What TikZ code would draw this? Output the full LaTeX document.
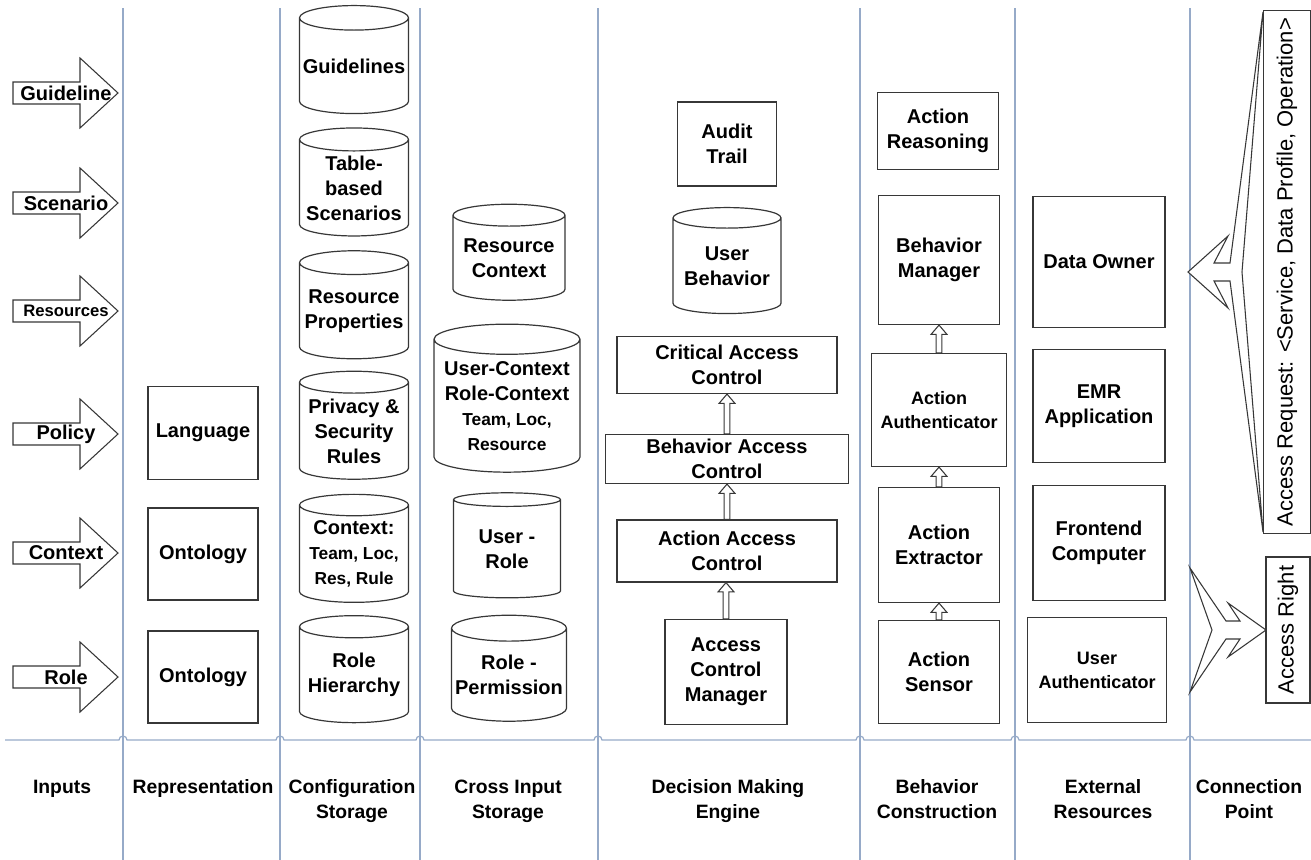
\documentclass[tikz,border=0pt]{standalone}
\usepackage{fontspec}
\setmainfont{Liberation Sans}
\usetikzlibrary{shapes.geometric,calc}

\definecolor{lanecol}{RGB}{150,170,200}
\definecolor{edgecol}{RGB}{55,55,55}
\newcommand{\smalltxt}{\fontsize{13}{15}\selectfont}

\begin{document}
\begin{tikzpicture}[x=0.75pt, y=-0.75pt,
    wh/.style 2 args={minimum width=#1*0.75pt, minimum height=#2*0.75pt},
    lane/.style={draw=lanecol, line width=0.9pt},
    box/.style={draw=edgecol, line width=0.9pt, fill=white, align=center,
      inner sep=0pt, font=\fontsize{15}{18.75}\selectfont\bfseries},
    store/.style={box, cylinder, shape border rotate=90, aspect=0.24},
    blockarrow/.style={draw=edgecol, line width=0.8pt, fill=white},
    lanelabel/.style={anchor=north, align=center, font=\fontsize{14.5}{18.75}\selectfont\bfseries},
    hollowup/.style={to path={let \p1=(\tikztostart), \p2=(\tikztotarget) in
      (\x1-2.2pt,\y1) -- (\x1-2.2pt,\y2-7pt) -- (\x1-6pt,\y2-7pt) -- (\x1,\y2)
      -- (\x1+6pt,\y2-7pt) -- (\x1+2.2pt,\y2-7pt) -- (\x1+2.2pt,\y1) -- cycle}}]
  \useasboundingbox (0,0) rectangle (1311,860);

  % lanes
  \foreach \x in {123,280,420,598,860,1015,1190}
    \draw[lane] (\x,8) -- (\x,860);
  \draw[lane] (5,740) \foreach \x in {123,280,420,598,860,1015,1190}
    { -- (\x-4,740) arc[start angle=180, end angle=360, radius=4] } -- (1311,740);

  % inputs
  \foreach \y/\name/\fs in {93/Guideline/15, 203/Scenario/15, 311/Resources/12.5,
                            434/Policy/15, 553/Context/15, 677/Role/15} {
    \draw[blockarrow] (13,\y-11) -- (80,\y-11) -- (80,\y-35) -- (118,\y)
      -- (80,\y+35) -- (80,\y+11) -- (13,\y+11) -- cycle;
    \node[font=\fontsize{\fs}{\fs}\selectfont\bfseries] (in\name) at (66,\y) {\name};
  }

  % representation
  \node[box, wh={110}{93}] (lang) at (203,433) {Language};
  \node[box, wh={110}{92}] (onto1) at (203,554) {Ontology};
  \node[box, wh={110}{92}] (onto2) at (203,677) {Ontology};

  % configuration storage
  \node[store, wh={109}{108}] (guides) at (354,66) {Guidelines};
  \node[store, wh={109}{108}] (scen) at (354,188) {Table-\\based\\Scenarios};
  \node[store, wh={109}{108}] (resprop) at (354,311) {Resource\\Properties};
  \node[store, wh={109}{108}] (rules) at (354,431) {Privacy \&\\Security\\Rules};
  \node[store, wh={109}{108}] (ctx) at (354,554)
    {Context:\\{\smalltxt Team, Loc,}\\{\smalltxt Res, Rule}};
  \node[store, wh={109}{107}] (rolehier) at (354,675) {Role\\Hierarchy};

  % cross input storage
  \node[store, wh={112}{96}] (resctx) at (509,258) {Resource\\Context};
  \node[store, wh={146}{148}] (userctx) at (507,406)
    {User-Context\\Role-Context\\{\smalltxt Team, Loc,}\\{\smalltxt Resource}};
  \node[store, wh={107}{105}] (userrole) at (507,549) {User -\\Role};
  \node[store, wh={115}{106}] (roleperm) at (509,675) {Role -\\Permission};

  % decision making engine
  \node[box, wh={99}{84}] (audit) at (727,144) {Audit\\Trail};
  \node[store, wh={108}{106}] (ubeh) at (727,266) {User\\Behavior};
  \node[box, wh={220}{57}] (crit) at (727,365) {Critical Access\\Control};
  \node[box, wh={243}{49}] (bac) at (727,459) {Behavior Access\\Control};
  \node[box, wh={220}{62}] (aac) at (727,551) {Action Access\\Control};
  \node[box, wh={122}{105}] (acm) at (726,672) {Access\\Control\\Manager};
  \draw[blockarrow] (acm.north) to[hollowup] (aac.south);
  \draw[blockarrow] (aac.north) to[hollowup] (bac.south);
  \draw[blockarrow] (bac.north) to[hollowup] (crit.south);

  % behavior construction
  \node[box, wh={121}{77}] (reason) at (938,131) {Action\\Reasoning};
  \node[box, wh={121}{129}] (bman) at (939,260) {Behavior\\Manager};
  \node[box, wh={135}{113}, font=\fontsize{13.5}{18}\selectfont\bfseries] (aauth) at (939,410)
    {Action\\Authenticator};
  \node[box, wh={121}{115}] (aext) at (939,545) {Action\\Extractor};
  \node[box, wh={121}{103}] (asens) at (939,672) {Action\\Sensor};
  \draw[blockarrow] (asens.north) to[hollowup] (aext.south);
  \draw[blockarrow] (aext.north) to[hollowup] (aauth.south);
  \draw[blockarrow] (aauth.north) to[hollowup] (bman.south);

  % external resources
  \node[box, wh={132}{131}] (owner) at (1099,262) {Data Owner};
  \node[box, wh={132}{113}] (emr) at (1099,406) {EMR\\Application};
  \node[box, wh={132}{115}] (front) at (1099,543) {Frontend\\Computer};
  \node[box, wh={139}{105}, font=\fontsize{13.5}{18}\selectfont\bfseries] (uauth) at (1097,670)
    {User\\Authenticator};

  % connection point
  \node[box, rotate=90, wh={523}{47}, font=\fontsize{16.5}{20}\selectfont] (req) at (1287,272)
    {Access Request: \textless Service, Data Profile, Operation\textgreater};
  \node[box, rotate=90, wh={146}{44}, font=\fontsize{16.5}{20}\selectfont] (right) at (1288,630)
    {Access Right};
  \draw[blockarrow] (1188,272) -- (1228,236) -- (1214,263) -- (1230,263) -- (1263,12)
    -- (1242,272) -- (1263,532) -- (1230,281) -- (1214,281) -- (1228,308) -- cycle;
  \draw[blockarrow] (1190,568) -- (1226,621) -- (1240,621) -- (1228,603) -- (1266,630)
    -- (1228,657) -- (1240,639) -- (1226,639) -- (1190,692) -- (1212,630) -- cycle;

  % lane titles
  \node[lanelabel] (tInputs) at (62,775) {Inputs};
  \node[lanelabel] (tRep) at (203,775) {Representation};
  \node[lanelabel] (tConf) at (352,775) {Configuration\\Storage};
  \node[lanelabel] (tCross) at (508,775) {Cross Input\\Storage};
  \node[lanelabel] (tDec) at (728,775) {Decision Making\\Engine};
  \node[lanelabel] (tBeh) at (937,775) {Behavior\\Construction};
  \node[lanelabel] (tExt) at (1103,775) {External\\Resources};
  \node[lanelabel] (tConn) at (1249,775) {Connection\\Point};
\end{tikzpicture}
\end{document}
